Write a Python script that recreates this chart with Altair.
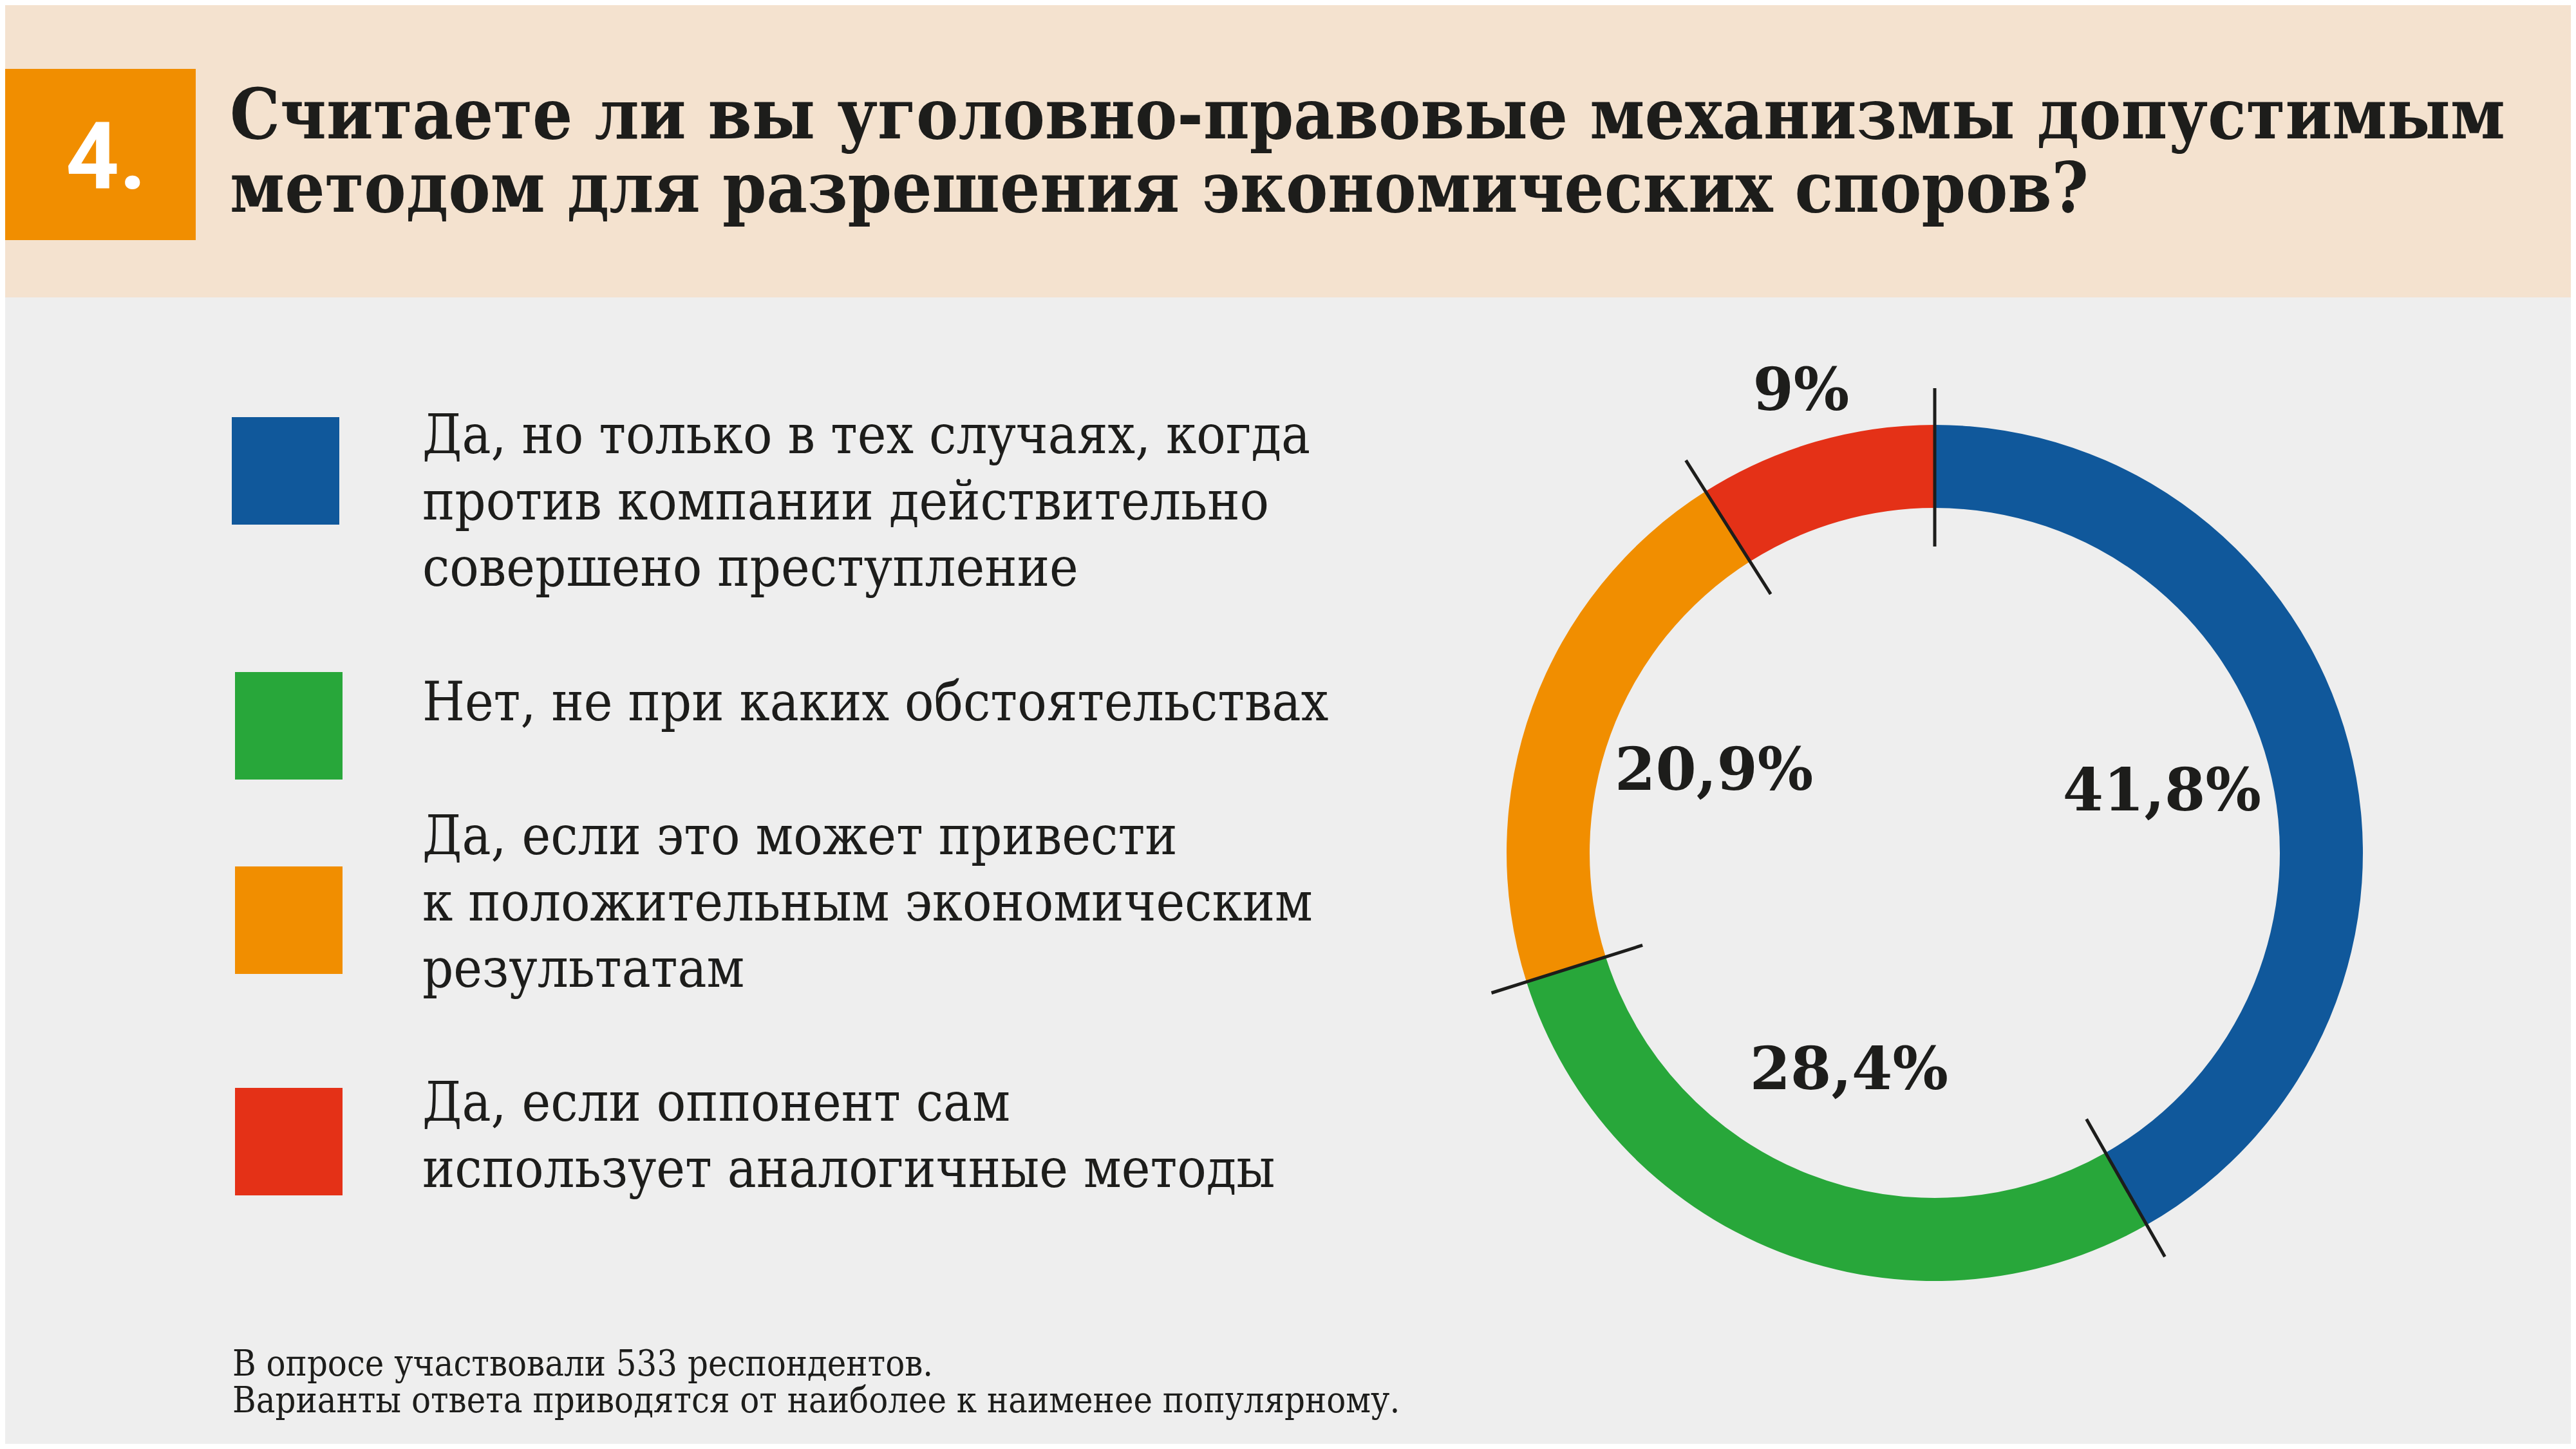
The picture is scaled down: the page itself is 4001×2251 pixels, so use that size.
import math
import altair as alt
import pandas as pd

# ---------------- data ----------------
answers = [
    "Да, но только в тех случаях, когда\nпротив компании действительно\nсовершено преступление",
    "Нет, не при каких обстоятельствах",
    "Да, если это может привести\nк положительным экономическим\nрезультатам",
    "Да, если оппонент сам\nиспользует аналогичные методы",
]
shares = [41.8, 28.4, 20.9, 9.0]
share_labels = ["41,8%", "28,4%", "20,9%", "9%"]
colors = ["#10589b", "#28a73a", "#f18e00", "#e43117"]

title_lines = "Считаете ли вы уголовно-правовые механизмы допустимым\nметодом для разрешения экономических споров?"
number_label = "4."
footnote = "В опросе участвовали 533 респондентов.\nВарианты ответа приводятся от наиболее к наименее популярному."

# ---------------- layout (pixels, chart coordinates) ----------------
W, H = 3985, 2235
CX, CY = 2997, 1317
R_OUT, R_IN = 665, 536
SEP_OUT, SEP_IN = 722, 476
LABEL_R_IN, LABEL_R_OUT = 365, 745

legend_sq_x = [352, 357, 357, 357]
legend_sq_top = [640, 1036, 1338, 1682]
legend_sq_size = 167
legend_text_x = 648
legend_text_base = [696, 1111, 1319, 1733]

INK = "#1d1d1b"
SERIF = "DejaVu Serif Condensed, DejaVu Serif"

# ---------------- derived tables ----------------
total = sum(shares)
starts, ends, acc = [], [], 0.0
for v in shares:
    starts.append(acc)
    acc += v
    ends.append(acc)

ring = pd.DataFrame({
    "answer": answers,
    "share": shares,
    "label": share_labels,
    "color": colors,
    "start": starts,
    "end": ends,
    "mid": [(s + e) / 2 for s, e in zip(starts, ends)],
    "lr": [LABEL_R_OUT if v < 10 else LABEL_R_IN for v in shares],
})

theta_scale = alt.Scale(domain=[0, total], range=[0, 2 * math.pi])

arcs = alt.Chart(ring).mark_arc(radius=R_OUT, radius2=R_IN).encode(
    x=alt.value(CX),
    y=alt.value(CY),
    theta=alt.Theta("start:Q", scale=theta_scale, stack=None),
    theta2="end:Q",
    color=alt.Color("color:N", scale=None),
)

separators = alt.Chart(ring).mark_arc(
    radius=SEP_OUT, radius2=SEP_IN, stroke=INK, strokeWidth=5, fillOpacity=0
).encode(
    x=alt.value(CX),
    y=alt.value(CY),
    theta=alt.Theta("start:Q", scale=theta_scale, stack=None),
    theta2="start:Q",
)

value_text = alt.Chart(ring).mark_text(
    font="DejaVu Serif", fontWeight="bold", fontSize=91, color=INK,
    align="center", baseline="middle",
).encode(
    x=alt.value(CX),
    y=alt.value(CY),
    theta=alt.Theta("mid:Q", scale=theta_scale, stack=None),
    radius=alt.Radius("lr:Q", scale=None),
    text="label:N",
)

legend_df = pd.DataFrame({
    "answer": answers,
    "color": colors,
    "sx": legend_sq_x,
    "sx2": [x + legend_sq_size for x in legend_sq_x],
    "sy": legend_sq_top,
    "sy2": [y + legend_sq_size for y in legend_sq_top],
    "ty": legend_text_base,
})

legend_sq = alt.Chart(legend_df).mark_rect().encode(
    x=alt.X("sx:Q", scale=None),
    x2="sx2:Q",
    y=alt.Y("sy:Q", scale=None),
    y2="sy2:Q",
    color=alt.Color("color:N", scale=None),
)

legend_txt = alt.Chart(legend_df).mark_text(
    font=SERIF, fontSize=84, color=INK, align="left", baseline="alphabetic",
    lineBreak="\n", lineHeight=103,
).encode(
    x=alt.value(legend_text_x),
    y=alt.Y("ty:Q", scale=None),
    text="answer:N",
)

one = pd.DataFrame({"k": [0]})

header = alt.Chart(one).mark_rect(color="#f4e2cf").encode(
    x=alt.value(0), x2=alt.value(W), y=alt.value(0), y2=alt.value(454)
)
num_box = alt.Chart(one).mark_rect(color="#f18e00").encode(
    x=alt.value(0), x2=alt.value(296), y=alt.value(99), y2=alt.value(365)
)
num_txt = alt.Chart(one).mark_text(
    text=number_label, font="Roboto", fontWeight="bold", fontSize=145,
    color="white", align="left", baseline="alphabetic",
).encode(x=alt.value(94), y=alt.value(285))

title = alt.Chart(one).mark_text(
    text=title_lines, font=SERIF, fontWeight="bold", fontSize=109,
    color=INK, align="left", baseline="alphabetic", lineBreak="\n", lineHeight=114,
).encode(x=alt.value(349), y=alt.value(207))

foot = alt.Chart(one).mark_text(
    text=footnote, font=SERIF, fontSize=55.5, color=INK, align="left",
    baseline="alphabetic", lineBreak="\n", lineHeight=57,
).encode(x=alt.value(353), y=alt.value(2129))

chart = alt.layer(
    header, num_box, num_txt, title, arcs, separators, value_text,
    legend_sq, legend_txt, foot,
).properties(
    width=W, height=H, background="#eeeeee", padding=0, autosize="none"
).configure_view(stroke=None)

chart.save("out.html", embed_options={"renderer": "svg", "actions": False})
